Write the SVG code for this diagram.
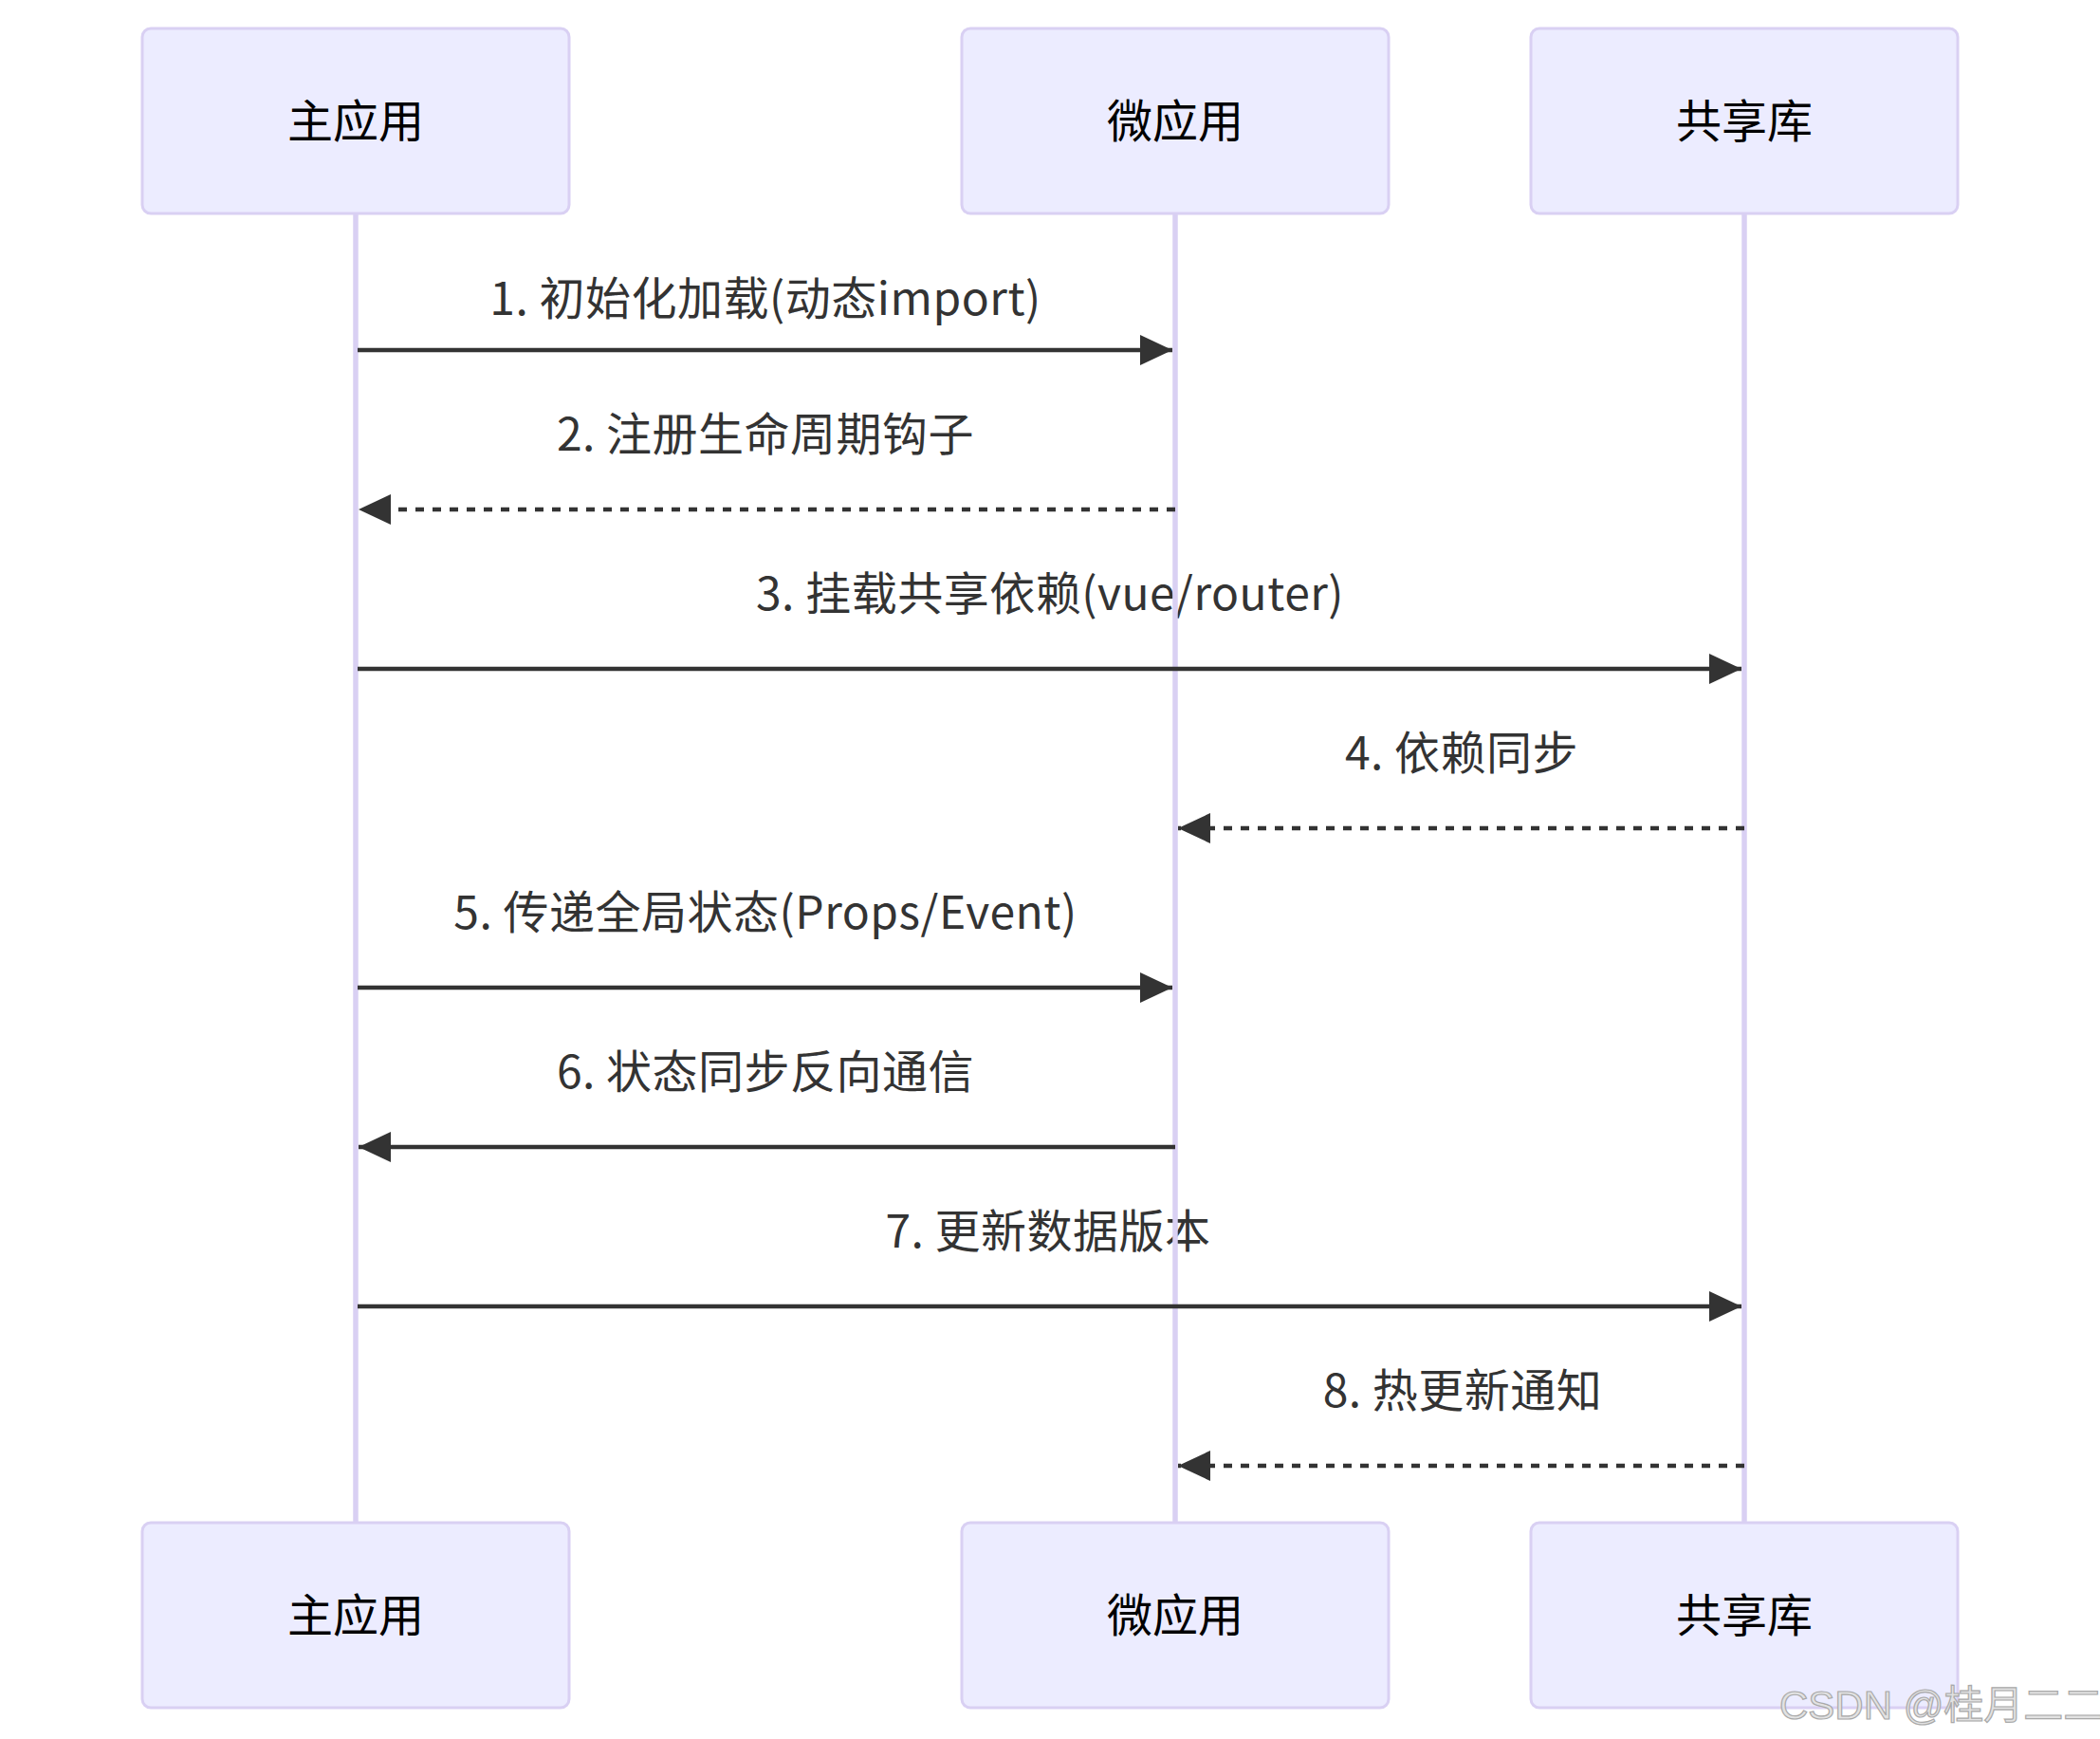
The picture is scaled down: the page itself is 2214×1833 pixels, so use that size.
<svg xmlns="http://www.w3.org/2000/svg" width="2214" height="1833" viewBox="0 0 2214 1833">
  <style>
    .actor-box { fill: #ECECFF; stroke: #D9D0F3; stroke-width: 3; }
    .actor-line { stroke: #D9D0F3; stroke-width: 5.5; }
    .actor-text { font-family: "Noto Sans CJK SC", "Noto Sans", sans-serif; font-size: 48px; fill: #000; text-anchor: middle; dominant-baseline: central; }
    .msg-text { font-family: "Noto Sans CJK SC", "Noto Sans", sans-serif; font-size: 48px; fill: #333; text-anchor: middle; letter-spacing: 0.5px; }
    .msg-solid { stroke: #333; stroke-width: 4.5; fill: none; marker-end: url(#arrowhead); }
    .msg-dashed { stroke: #333; stroke-width: 4.5; fill: none; stroke-dasharray: 9 9; marker-end: url(#arrowhead); }
    .watermark { font-family: "Liberation Sans", "Noto Sans CJK SC", sans-serif; font-size: 42px; fill: #e2e2e2; stroke: #a9a9a9; stroke-width: 1.2; }
  </style>
  <defs>
    <marker id="arrowhead" markerUnits="userSpaceOnUse" viewBox="0 0 34 32" markerWidth="34" markerHeight="32" refX="34" refY="16" orient="auto">
      <path d="M0,0 L34,16 L0,32 Z" fill="#333"/>
    </marker>
  </defs>
  <rect width="2214" height="1833" fill="#ffffff"/>

  <g id="message-labels">
    <text class="msg-text" x="807" y="332">1. 初始化加载(动态import)</text>
    <text class="msg-text" x="807" y="475">2. 注册生命周期钩子</text>
    <text class="msg-text" x="1107" y="643">3. 挂载共享依赖(vue/router)</text>
    <text class="msg-text" x="1541" y="811">4. 依赖同步</text>
    <text class="msg-text" x="807" y="979">5. 传递全局状态(Props/Event)</text>
    <text class="msg-text" x="807" y="1147">6. 状态同步反向通信</text>
    <text class="msg-text" x="1105" y="1315">7. 更新数据版本</text>
    <text class="msg-text" x="1542" y="1483">8. 热更新通知</text>
  </g>

  <g id="actor-main">
    <line class="actor-line" x1="375" y1="225" x2="375" y2="1605"/>
    <rect class="actor-box" x="150" y="30" width="450" height="195" rx="9" ry="9"/>
    <text class="actor-text" x="375" y="124">主应用</text>
    <rect class="actor-box" x="150" y="1605" width="450" height="195" rx="9" ry="9"/>
    <text class="actor-text" x="375" y="1699">主应用</text>
  </g>

  <g id="actor-micro">
    <line class="actor-line" x1="1239" y1="225" x2="1239" y2="1605"/>
    <rect class="actor-box" x="1014" y="30" width="450" height="195" rx="9" ry="9"/>
    <text class="actor-text" x="1239" y="124">微应用</text>
    <rect class="actor-box" x="1014" y="1605" width="450" height="195" rx="9" ry="9"/>
    <text class="actor-text" x="1239" y="1699">微应用</text>
  </g>

  <g id="actor-shared">
    <line class="actor-line" x1="1839" y1="225" x2="1839" y2="1605"/>
    <rect class="actor-box" x="1614" y="30" width="450" height="195" rx="9" ry="9"/>
    <text class="actor-text" x="1839" y="124">共享库</text>
    <rect class="actor-box" x="1614" y="1605" width="450" height="195" rx="9" ry="9"/>
    <text class="actor-text" x="1839" y="1699">共享库</text>
  </g>

  <g id="connectors">
    <line class="msg-solid" x1="377" y1="369" x2="1236" y2="369"/>
    <line class="msg-dashed" x1="1239" y1="537" x2="378" y2="537"/>
    <line class="msg-solid" x1="377" y1="705" x2="1836" y2="705"/>
    <line class="msg-dashed" x1="1839" y1="873" x2="1242" y2="873"/>
    <line class="msg-solid" x1="377" y1="1041" x2="1236" y2="1041"/>
    <line class="msg-solid" x1="1239" y1="1209" x2="378" y2="1209"/>
    <line class="msg-solid" x1="377" y1="1377" x2="1836" y2="1377"/>
    <line class="msg-dashed" x1="1839" y1="1545" x2="1242" y2="1545"/>
  </g>

  <text class="watermark" x="1876" y="1812">CSDN @桂月二二</text>
</svg>
